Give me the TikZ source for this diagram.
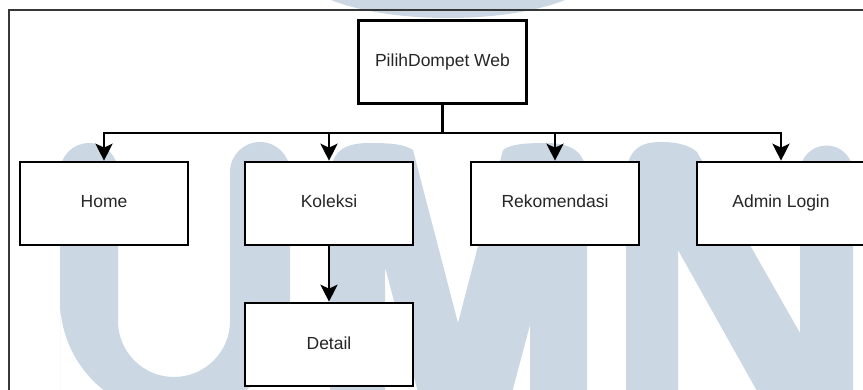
\documentclass[tikz,border=0pt]{standalone}
\usepackage{fontspec}
\setmainfont{Liberation Sans}
\usetikzlibrary{arrows.meta}
\definecolor{wm}{RGB}{203,216,228}
\definecolor{framec}{RGB}{55,55,55}
\begin{document}
\begin{tikzpicture}[x=1pt,y=-1pt,
  box/.style={draw=black, fill=white, line width=2.6pt, minimum width=168pt, minimum height=83pt, inner sep=0pt, text height=12.5pt, text depth=3.5pt, font=\fontsize{17.5}{20}\selectfont, text=black!85},
  link/.style={line width=2.6pt, draw=black},
  arr/.style={link, -{Stealth[length=17pt,width=17pt,inset=4pt]}}]
\useasboundingbox (0,0) rectangle (863,390);
\clip (0,0) rectangle (863,390);
% watermark
\fill[wm] (448,-30) ellipse[x radius=150pt, y radius=48pt];
\fill[wm] (60,400) -- (60,172) arc[start angle=180,end angle=0,radius=29pt] -- (118,321) arc[start angle=180,end angle=360,radius=56pt] -- (230,172) arc[start angle=180,end angle=0,radius=30pt] -- (290,300) arc[start angle=0,end angle=-180,radius=115pt] -- cycle;
\fill[wm] (330,400) -- (330,180) .. controls (330,150) and (345,143) .. (370,143) .. controls (395,143) and (405,145) .. (413,150) -- (458,323) -- (503,150) .. controls (510,145) and (520,143) .. (545,143) .. controls (570,143) and (587,150) .. (587,180) -- (587,400) -- (530,400) -- (530,325) -- (510,400) -- (420,400) -- (385,267) -- (385,400) -- cycle;
\fill[wm] (626,400) -- (626,180) .. controls (626,150) and (640,142) .. (660,142) .. controls (680,142) and (690,146) .. (697,152) -- (800,333) -- (800,172) arc[start angle=180,end angle=0,radius=26.5pt] -- (853,400) -- (762,400) -- (678,250) -- (678,400) -- cycle;
% frame
\draw[framec, line width=1.3pt] (9,400) -- (9,10) -- (870,10);
% nodes
\node[box] (top) at (442.5,62) {PilihDompet Web};
\node[box] (home) at (104,203.5) {Home};
\node[box] (kol) at (329,203.5) {Koleksi};
\node[box] (rek) at (555,203.5) {Rekomendasi};
\node[box] (adm) at (781,203.5) {Admin Login};
\node[box] (det) at (329,344.5) {Detail};
\coordinate (bus) at (442.5,133);
% connectors
\draw[link] (top.south) -- (bus);
\draw[arr] (bus) -| (home.north);
\draw[arr] (bus) -| (kol.north);
\draw[arr] (bus) -| (rek.north);
\draw[arr] (bus) -| (adm.north);
\draw[arr] (kol.south) -- (det.north);
\end{tikzpicture}
\end{document}
